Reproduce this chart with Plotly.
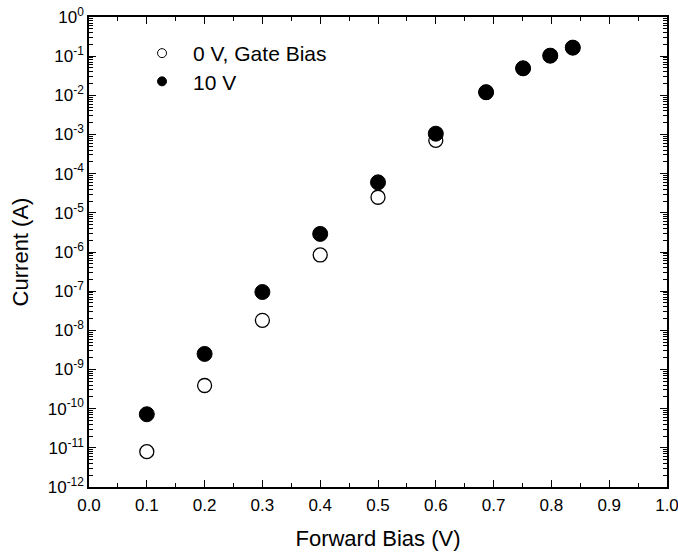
import plotly.graph_objects as go

# Data
bias_0v = [0.1, 0.2, 0.3, 0.4, 0.5, 0.6, 0.687, 0.751, 0.798, 0.837]
current_0v = [8e-12, 3.9e-10, 1.8e-8, 8.4e-7, 2.5e-5, 7.1e-4, 1.2e-2, 4.9e-2, 1.03e-1, 1.65e-1]
bias_10v = [0.1, 0.2, 0.3, 0.4, 0.5, 0.6, 0.687, 0.751, 0.798, 0.837]
current_10v = [7.2e-11, 2.5e-9, 9.5e-8, 2.9e-6, 6.0e-5, 1.05e-3, 1.2e-2, 4.9e-2, 1.03e-1, 1.65e-1]

series_names = ["0 V, Gate Bias", "10 V"]
y_exponents = list(range(-12, 1))
y_ticktext = ["10<sup>%d</sup>" % e for e in y_exponents]
x_tickvals = [i / 10 for i in range(11)]
x_ticktext = ["%.1f" % v for v in x_tickvals]

FONT = "Liberation Sans, Arial, sans-serif"

fig = go.Figure()
fig.add_trace(go.Scatter(
    x=bias_0v, y=current_0v, mode="markers", showlegend=False,
    marker=dict(symbol="circle", size=14, color="white",
                line=dict(color="black", width=1.3)),
))
fig.add_trace(go.Scatter(
    x=bias_10v, y=current_10v, mode="markers", showlegend=False,
    marker=dict(symbol="circle", size=15, color="black",
                line=dict(color="black", width=1)),
))
# legend entries with smaller symbols
fig.add_trace(go.Scatter(
    x=[None], y=[None], mode="markers", name=series_names[0], legend="legend",
    marker=dict(symbol="circle", size=9, color="white",
                line=dict(color="black", width=1)),
))
fig.add_trace(go.Scatter(
    x=[None], y=[None], mode="markers", name=series_names[1], legend="legend2",
    marker=dict(symbol="circle", size=9, color="black",
                line=dict(color="black", width=1)),
))

minor_y = [m * 10 ** e for e in range(-12, 0) for m in range(2, 10)]

legend_style = dict(xanchor="left", yanchor="top", bgcolor="rgba(0,0,0,0)",
                    font=dict(size=21, family=FONT), itemwidth=52)

fig.update_layout(
    width=678, height=555,
    margin=dict(l=89, r=11, t=17, b=68, autoexpand=False),
    paper_bgcolor="white", plot_bgcolor="white",
    font=dict(family=FONT, size=17, color="black"),
    showlegend=True,
    legend=dict(x=0.0727, y=0.966, **legend_style),
    legend2=dict(x=0.0727, y=0.906, **legend_style),
    xaxis=dict(
        range=[0, 1], tickmode="array", tickvals=x_tickvals, ticktext=x_ticktext,
        ticks="inside", ticklen=7, tickwidth=1.3, tickcolor="black",
        showline=True, linecolor="black", linewidth=1.5, mirror="ticks",
        showgrid=False, zeroline=False, automargin=False,
        ticklabeloverflow="allow", ticklabelstandoff=2,
        minor=dict(tickvals=[0.05 + i / 10 for i in range(10)], ticks="inside",
                   ticklen=4, tickwidth=1.3, tickcolor="black", showgrid=False),
        title=dict(text="Forward Bias (V)", font=dict(size=22, family=FONT), standoff=16),
        tickfont=dict(size=17, family=FONT),
    ),
    yaxis=dict(
        type="log", range=[-12, 0], tickmode="array",
        tickvals=[10 ** e for e in y_exponents], ticktext=y_ticktext,
        ticks="inside", ticklen=7, tickwidth=1.3, tickcolor="black",
        showline=True, linecolor="black", linewidth=1.5, mirror="ticks",
        showgrid=False, zeroline=False, automargin=False,
        ticklabeloverflow="allow",
        minor=dict(tickvals=minor_y, ticks="inside", ticklen=4, tickwidth=1,
                   tickcolor="black", showgrid=False),
        title=dict(text="Current (A)", font=dict(size=22, family=FONT), standoff=13),
        tickfont=dict(size=17, family=FONT),
    ),
)

fig.write_html("out.html")
